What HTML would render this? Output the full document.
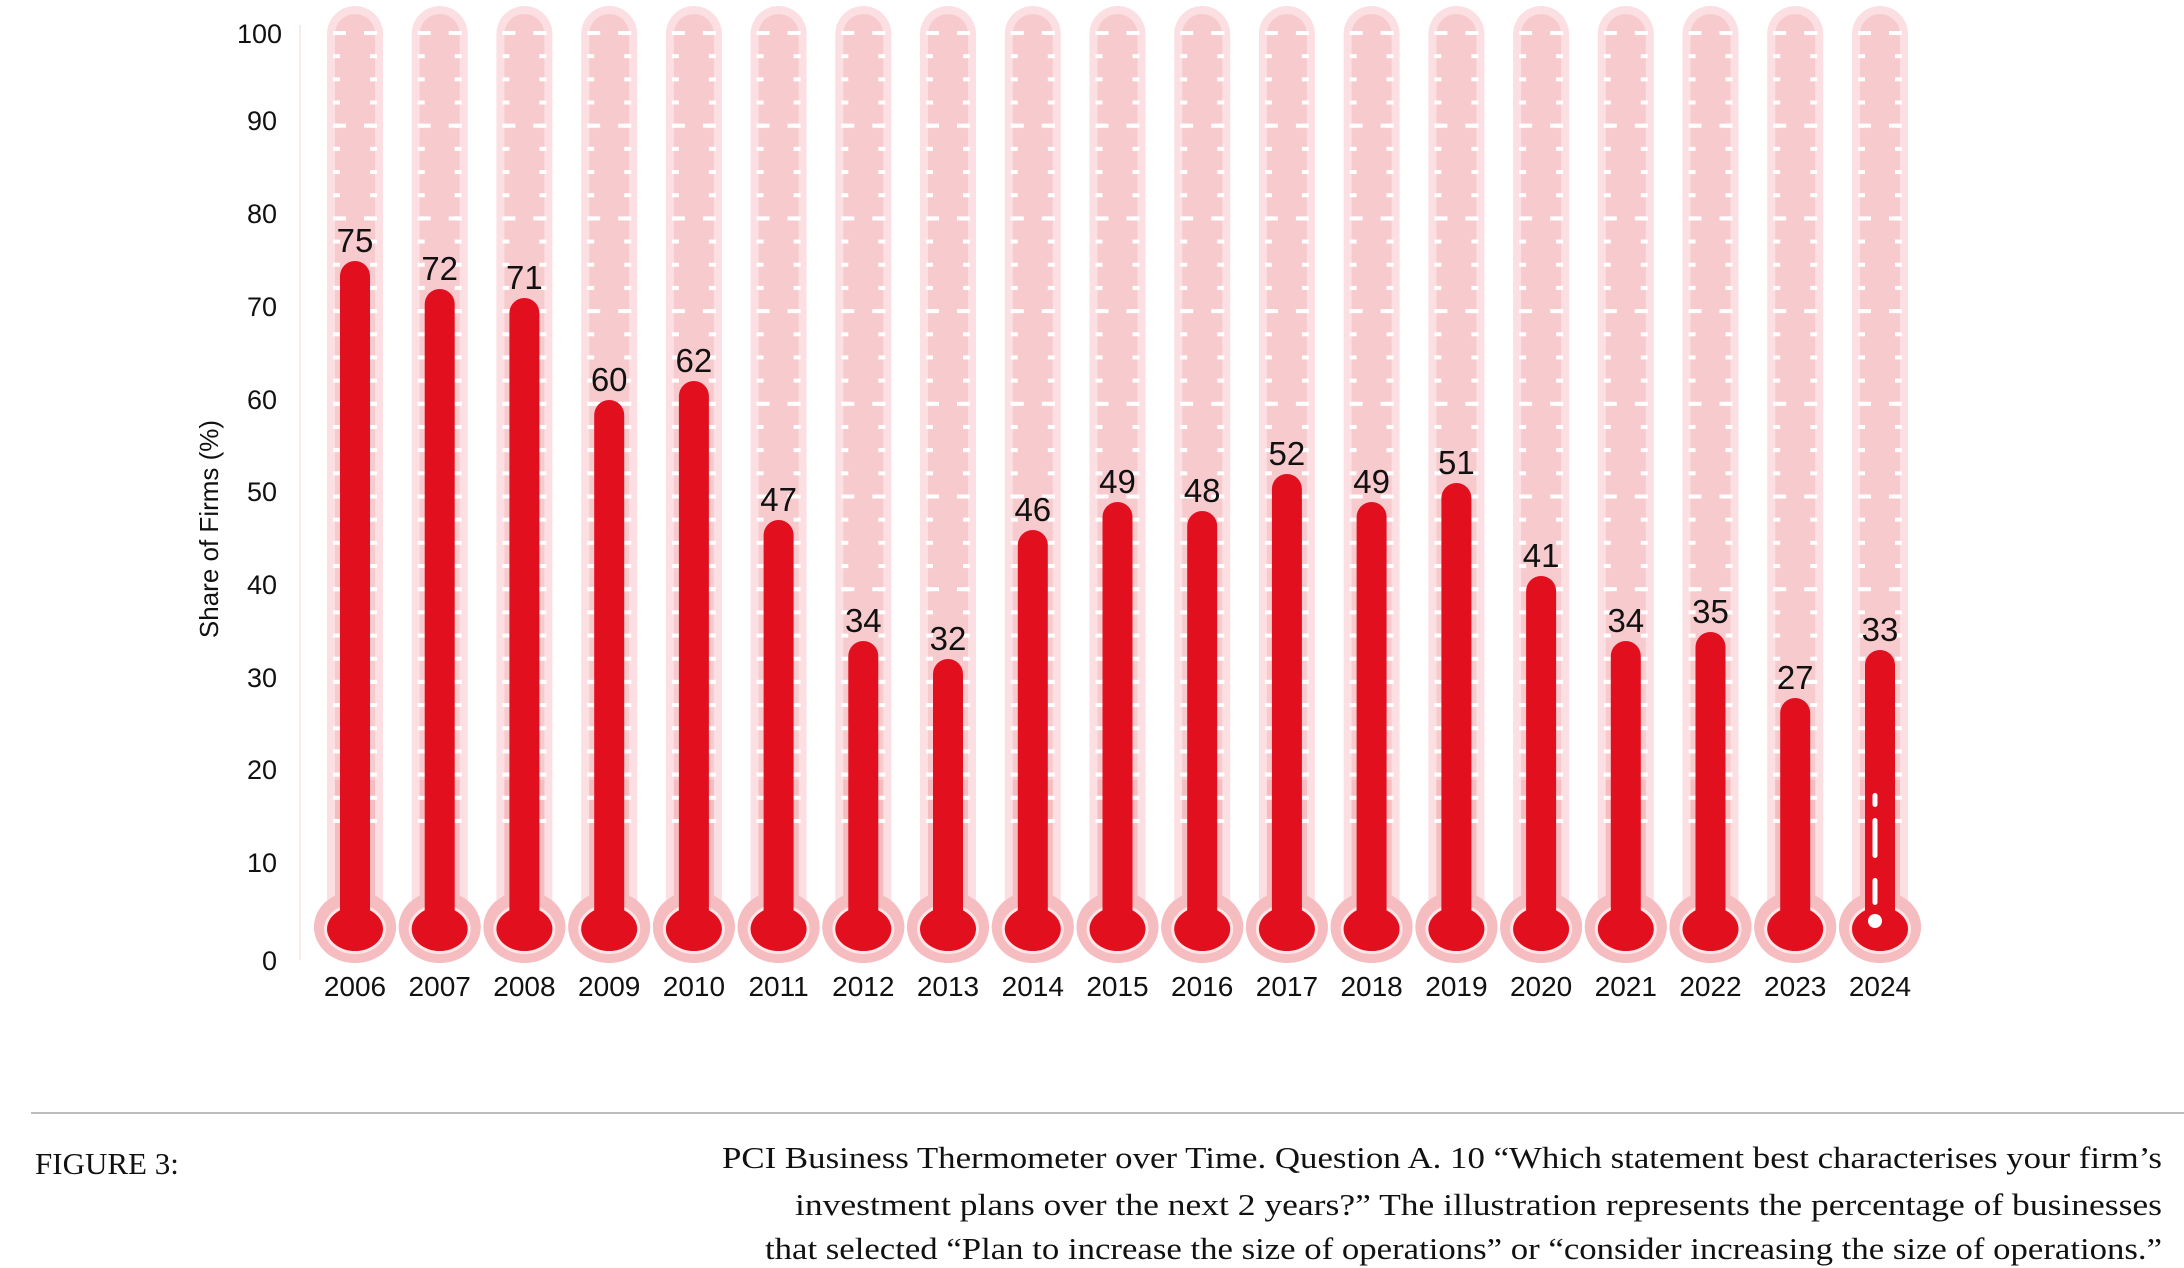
<!DOCTYPE html>
<html><head><meta charset="utf-8"><style>
html,body{margin:0;padding:0;background:#fff;}
svg{display:block;}
</style></head><body>
<svg width="2184" height="1268" viewBox="0 0 2184 1268" xmlns="http://www.w3.org/2000/svg">
<defs>
<pattern id="sd" patternUnits="userSpaceOnUse" x="-28" y="31" width="56" height="23.175">
<rect x="6" y="0" width="7" height="4" fill="#fff"/><rect x="43" y="0" width="7" height="4" fill="#fff"/>
</pattern>
<pattern id="ld" patternUnits="userSpaceOnUse" x="-28" y="31" width="56" height="92.7">
<rect x="6" y="0" width="13" height="4" fill="#fff"/><rect x="37" y="0" width="13" height="4" fill="#fff"/>
</pattern>
<g id="bg">
<ellipse cx="0" cy="927" rx="41" ry="36" fill="#f6bdc0"/>
<rect x="-28" y="6" width="56" height="930" rx="28" fill="#fbdfe2"/>
<rect x="-20" y="14" width="40" height="910" rx="20" fill="#f7cbce"/>
<ellipse cx="0" cy="927" rx="41" ry="36" fill="#f6bdc0"/>
<rect x="-20" y="780" width="40" height="140" fill="#f6bdc0"/>
<ellipse cx="0" cy="929" rx="31" ry="25" fill="#fde6e8"/>
<rect x="-14" y="800" width="28" height="120" fill="#fde6e8"/>
<rect x="-28" y="31" width="56" height="800" fill="url(#sd)"/>
<rect x="-28" y="31" width="56" height="800" fill="url(#ld)"/>
<ellipse cx="0" cy="929" rx="28" ry="22" fill="#e2101f"/>
</g>
</defs>

<line x1="300" y1="25" x2="300" y2="960" stroke="#fbe9ea" stroke-width="2"/>
<g font-family="Liberation Sans, sans-serif" font-size="27" fill="#111" text-anchor="end">
<text x="282" y="43">100</text>
<text x="277" y="130">90</text>
<text x="277" y="223">80</text>
<text x="277" y="316">70</text>
<text x="277" y="409">60</text>
<text x="277" y="501">50</text>
<text x="277" y="594">40</text>
<text x="277" y="687">30</text>
<text x="277" y="779">20</text>
<text x="277" y="872">10</text>
<text x="277" y="970">0</text>
</g>
<text transform="translate(218,529) rotate(-90)" font-family="Liberation Sans, sans-serif" font-size="26" fill="#111" text-anchor="middle">Share of Firms (%)</text>

<use href="#bg" x="355"/><use href="#bg" x="439.7"/><use href="#bg" x="524.4"/><use href="#bg" x="609.2"/><use href="#bg" x="693.9"/><use href="#bg" x="778.6"/><use href="#bg" x="863.3"/><use href="#bg" x="948"/><use href="#bg" x="1032.8"/><use href="#bg" x="1117.5"/><use href="#bg" x="1202.2"/><use href="#bg" x="1286.9"/><use href="#bg" x="1371.6"/><use href="#bg" x="1456.4"/><use href="#bg" x="1541.1"/><use href="#bg" x="1625.8"/><use href="#bg" x="1710.5"/><use href="#bg" x="1795.2"/><use href="#bg" x="1880"/>

<g fill="#e2101f">
<rect x="340" y="261" width="30" height="668" rx="15"/>
<rect x="424.7" y="289" width="30" height="640" rx="15"/>
<rect x="509.4" y="298" width="30" height="631" rx="15"/>
<rect x="594.2" y="400" width="30" height="529" rx="15"/>
<rect x="678.9" y="381" width="30" height="548" rx="15"/>
<rect x="763.6" y="520" width="30" height="409" rx="15"/>
<rect x="848.3" y="641" width="30" height="288" rx="15"/>
<rect x="933" y="659" width="30" height="270" rx="15"/>
<rect x="1017.8" y="530" width="30" height="399" rx="15"/>
<rect x="1102.5" y="502" width="30" height="427" rx="15"/>
<rect x="1187.2" y="511" width="30" height="418" rx="15"/>
<rect x="1271.9" y="474" width="30" height="455" rx="15"/>
<rect x="1356.6" y="502" width="30" height="427" rx="15"/>
<rect x="1441.4" y="483" width="30" height="446" rx="15"/>
<rect x="1526.1" y="576" width="30" height="353" rx="15"/>
<rect x="1610.8" y="641" width="30" height="288" rx="15"/>
<rect x="1695.5" y="632" width="30" height="297" rx="15"/>
<rect x="1780.2" y="698" width="30" height="231" rx="15"/>
<rect x="1865" y="650" width="30" height="279" rx="15"/>
</g>
<g fill="#fff">
<rect x="1872.5" y="793" width="5" height="14" rx="2.5"/>
<rect x="1872.5" y="818" width="5" height="40" rx="2.5"/>
<rect x="1872.5" y="878" width="5" height="27" rx="2.5"/>
<circle cx="1875" cy="921" r="7"/>
</g>

<g font-family="Liberation Sans, sans-serif" font-size="33" fill="#111" text-anchor="middle">
<text x="355" y="252">75</text>
<text x="439.7" y="280">72</text>
<text x="524.4" y="289">71</text>
<text x="609.2" y="391">60</text>
<text x="693.9" y="372">62</text>
<text x="778.6" y="511">47</text>
<text x="863.3" y="632">34</text>
<text x="948" y="650">32</text>
<text x="1032.8" y="521">46</text>
<text x="1117.5" y="493">49</text>
<text x="1202.2" y="502">48</text>
<text x="1286.9" y="465">52</text>
<text x="1371.6" y="493">49</text>
<text x="1456.4" y="474">51</text>
<text x="1541.1" y="567">41</text>
<text x="1625.8" y="632">34</text>
<text x="1710.5" y="623">35</text>
<text x="1795.2" y="689">27</text>
<text x="1880" y="641">33</text>
</g>

<g font-family="Liberation Sans, sans-serif" font-size="28" fill="#111" text-anchor="middle">
<text x="355" y="996">2006</text><text x="439.7" y="996">2007</text><text x="524.4" y="996">2008</text><text x="609.2" y="996">2009</text><text x="693.9" y="996">2010</text><text x="778.6" y="996">2011</text><text x="863.3" y="996">2012</text><text x="948" y="996">2013</text><text x="1032.8" y="996">2014</text><text x="1117.5" y="996">2015</text><text x="1202.2" y="996">2016</text><text x="1286.9" y="996">2017</text><text x="1371.6" y="996">2018</text><text x="1456.4" y="996">2019</text><text x="1541.1" y="996">2020</text><text x="1625.8" y="996">2021</text><text x="1710.5" y="996">2022</text><text x="1795.2" y="996">2023</text><text x="1880" y="996">2024</text>
</g>

<line x1="31" y1="1113" x2="2184" y2="1113" stroke="#bdbdbd" stroke-width="2"/>
<g font-family="Liberation Serif, serif" font-size="31" fill="#111">
<text x="35" y="1174">FIGURE 3:</text>
<text x="2162" y="1168" text-anchor="end" textLength="1440" lengthAdjust="spacingAndGlyphs">PCI Business Thermometer over Time. Question A. 10 “Which statement best characterises your firm’s</text>
<text x="2162" y="1215" text-anchor="end" textLength="1367" lengthAdjust="spacingAndGlyphs">investment plans over the next 2 years?” The illustration represents the percentage of businesses</text>
<text x="2162" y="1259" text-anchor="end" textLength="1397" lengthAdjust="spacingAndGlyphs">that selected “Plan to increase the size of operations” or “consider increasing the size of operations.”</text>
</g>
</svg>
</body></html>
